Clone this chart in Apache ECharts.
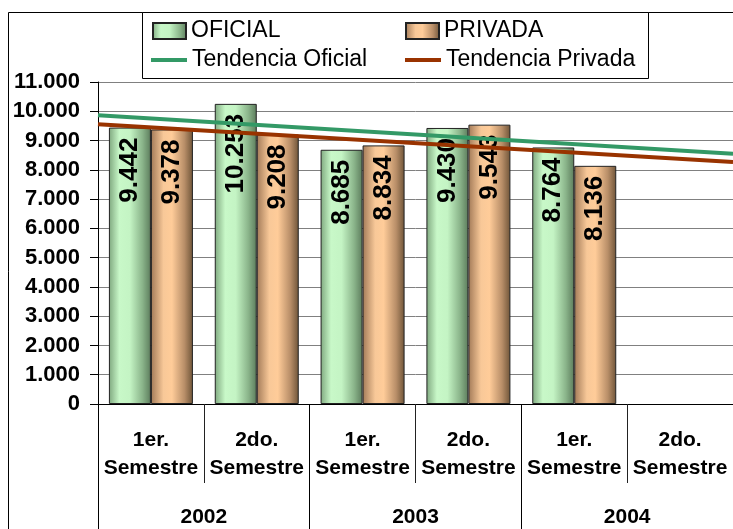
<!DOCTYPE html>
<html>
<head>
<meta charset="utf-8">
<script src="https://cdn.jsdelivr.net/npm/echarts@6/dist/echarts.min.js"></script>
<style>
  html, body { margin: 0; padding: 0; background: #fff; }
  #chart { width: 733px; height: 529px; }
</style>
</head>
<body>
<div id="chart"></div>
<script>
// datos
var semestres = ['1er.\nSemestre', '2do.\nSemestre', '1er.\nSemestre', '2do.\nSemestre', '1er.\nSemestre', '2do.\nSemestre']
var anios = ['2002', '2003', '2004']
var oficial = [9442, 10253, 8685, 9430, 8764, null]
var privada = [9378, 9208, 8834, 9543, 8136, null]
// tendencias (extremos del area de trazado)
var tendX = [0, 6]
var tendOficial = [9860, 8550]
var tendPrivada = [9560, 8270]

var FONT = "'Liberation Sans', Arial, sans-serif"

function miles(v) {
  return String(v).replace(/\B(?=(\d{3})+(?!\d))/g, '.')
}

var verde = new echarts.graphic.LinearGradient(0, 0, 1, 0, [
  { offset: 0, color: '#7fa87f' },
  { offset: 0.25, color: '#c8f8c8' },
  { offset: 0.5, color: '#c4f4c4' },
  { offset: 0.8, color: '#8ab48a' },
  { offset: 1, color: '#5c7c5c' }
])
var naranja = new echarts.graphic.LinearGradient(0, 0, 1, 0, [
  { offset: 0, color: '#a27a58' },
  { offset: 0.3, color: '#f8c898' },
  { offset: 0.5, color: '#ffcc99' },
  { offset: 0.8, color: '#b88e68' },
  { offset: 1, color: '#6e5438' }
])

var chart = echarts.init(document.getElementById('chart'))

var etiqueta = {
  show: true,
  position: 'insideTop',
  distance: 10,
  rotate: 90,
  align: 'right',
  verticalAlign: 'middle',
  fontFamily: FONT,
  fontSize: 26,
  fontWeight: 'bold',
  color: '#000',
  formatter: function (p) { return p.value == null ? '' : miles(p.value) }
}

function leyenda(nombre, left, top, lineal) {
  return {
    data: [nombre],
    left: left,
    top: top,
    padding: 0,
    itemWidth: lineal ? 36 : 33,
    itemHeight: lineal ? 4 : 16,
    icon: 'rect',
    selectedMode: false,
    textStyle: { fontFamily: FONT, fontSize: 23, lineHeight: 26, color: '#000' }
  }
}

chart.setOption({
  backgroundColor: '#fff',
  animation: false,
  graphic: [
    // marco exterior
    { type: 'rect', shape: { x: 8.5, y: 12.5, width: 800, height: 600 },
      style: { fill: null, stroke: '#000', lineWidth: 1 }, z: -1 },
    // marco de la leyenda
    { type: 'rect', shape: { x: 142.5, y: 12.5, width: 506, height: 66 },
      style: { fill: '#fff', stroke: '#000', lineWidth: 1 }, z: -1 }
  ],
  legend: [
    leyenda('OFICIAL', 152, 18, false),
    leyenda('PRIVADA', 405, 18, false),
    leyenda('Tendencia Oficial', 151, 47, true),
    leyenda('Tendencia Privada', 405, 47, true)
  ],
  grid: { left: 98, top: 82, width: 639, height: 322, containLabel: false },
  xAxis: [
    {
      type: 'category',
      position: 'bottom',
      data: semestres,
      axisLine: { show: true, lineStyle: { color: '#000', width: 1 } },
      axisTick: { show: true, length: 79, lineStyle: { color: '#222' } },
      axisLabel: {
        interval: 0, margin: 22,
        fontFamily: FONT, fontSize: 21, fontWeight: 'bold', lineHeight: 28, color: '#000'
      }
    },
    {
      type: 'category',
      position: 'bottom',
      offset: 0,
      data: anios,
      axisLine: { show: false },
      axisTick: { show: true, length: 140, lineStyle: { color: '#000' } },
      axisLabel: {
        interval: 0, margin: 103,
        fontFamily: FONT, fontSize: 21, fontWeight: 'bold', color: '#000'
      }
    },
    {
      type: 'value',
      position: 'top',
      min: 0,
      max: 6,
      show: false
    }
  ],
  yAxis: {
    type: 'value',
    min: 0,
    max: 11000,
    interval: 1000,
    axisLine: { show: true, lineStyle: { color: '#000' } },
    axisTick: { show: true, length: 8, lineStyle: { color: '#000' } },
    splitLine: { show: true, lineStyle: { color: '#808080', width: 1 } },
    axisLabel: {
      margin: 18,
      fontFamily: FONT, fontSize: 22, fontWeight: 'bold', color: '#000',
      formatter: function (v) { return miles(v) }
    }
  },
  series: [
    {
      name: 'OFICIAL', type: 'bar', data: oficial,
      barWidth: 42, barGap: '0%',
      itemStyle: { color: verde, borderColor: '#222', borderWidth: 1 },
      label: etiqueta
    },
    {
      name: 'PRIVADA', type: 'bar', data: privada,
      barWidth: 42, barGap: '0%',
      itemStyle: { color: naranja, borderColor: '#222', borderWidth: 1 },
      label: etiqueta
    },
    {
      name: 'Tendencia Oficial', type: 'line', xAxisIndex: 2,
      data: tendX.map(function (x, i) { return [x, tendOficial[i]] }),
      symbol: 'none', z: 3,
      itemStyle: { color: '#339966' },
      lineStyle: { color: '#339966', width: 4 }
    },
    {
      name: 'Tendencia Privada', type: 'line', xAxisIndex: 2,
      data: tendX.map(function (x, i) { return [x, tendPrivada[i]] }),
      symbol: 'none', z: 3,
      itemStyle: { color: '#993300' },
      lineStyle: { color: '#993300', width: 4 }
    }
  ]
})
</script>
</body>
</html>
